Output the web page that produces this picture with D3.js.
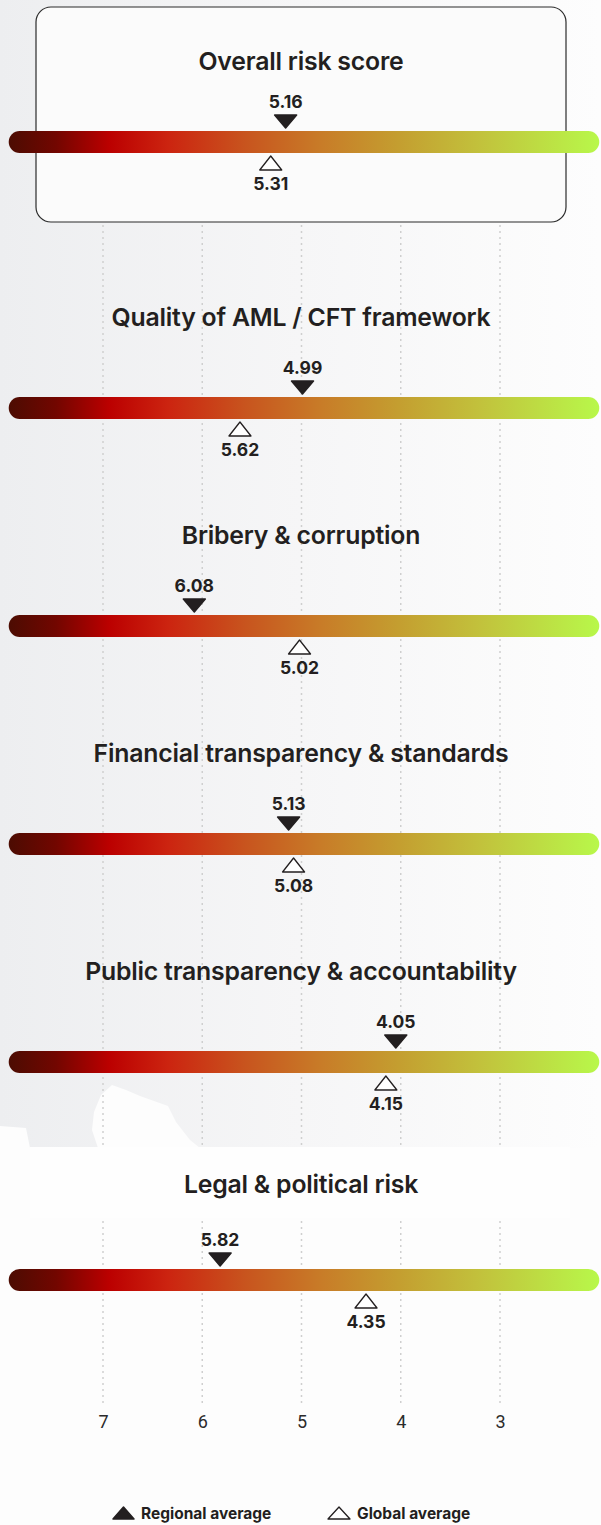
<!DOCTYPE html>
<html>
<head>
<meta charset="utf-8">
<script src="https://cdn.jsdelivr.net/npm/d3@7"></script>
<style>
  html, body { margin: 0; padding: 0; background: #fdfdfd; }
  svg { display: block; font-family: "Inter", "Roboto", sans-serif; }
</style>
</head>
<body>
<svg id="chart"></svg>
<script>
const categories = [
  "Overall risk score",
  "Quality of AML / CFT framework",
  "Bribery & corruption",
  "Financial transparency & standards",
  "Public transparency & accountability",
  "Legal & political risk",
];
const regionalAvg = [5.16, 4.99, 6.08, 5.13, 4.05, 5.82];
const globalAvg = [5.31, 5.62, 5.02, 5.08, 4.15, 4.35];
const tickValues = [7, 6, 5, 4, 3];
const barExtent = [7.95, 2.0]; // the coloured bar runs a bit past the ticks
const legendItems = ["Regional average", "Global average"];

const width = 601;
const height = 1525;
const textColor = "#231f20";

const svg = d3.select("#chart").attr("width", width).attr("height", height);

const x = d3.scaleLinear().domain([7, 3]).range([103, 500]);

// row centres: the first one sits in the framed box, the rest are evenly spaced
const rowY = (i) => (i === 0 ? 142 : 408 + (i - 1) * 218);

const defs = svg.append("defs");

const bg = defs.append("linearGradient").attr("id", "bg-grad");
bg.append("stop").attr("offset", "0%").attr("stop-color", "#edeef0");
bg.append("stop").attr("offset", "50%").attr("stop-color", "#f6f6f7");
bg.append("stop").attr("offset", "100%").attr("stop-color", "#fdfdfd");

const barGrad = defs
  .append("linearGradient")
  .attr("id", "bar-grad")
  .attr("gradientUnits", "userSpaceOnUse")
  .attr("x1", x(barExtent[0]))
  .attr("x2", x(barExtent[1]));

[
  [0, "#4c0c02"],
  [0.08, "#720600"],
  [0.17, "#bb0000"],
  [0.27, "#cc2410"],
  [0.4, "#c8541e"],
  [0.53, "#c87c28"],
  [0.66, "#c49e30"],
  [0.8, "#c2c23c"],
  [1, "#b8f84a"],
].forEach(([o, c]) => {
  barGrad.append("stop").attr("offset", o).attr("stop-color", c);
});

// soft grey backdrop with a ragged lower edge
svg
  .append("path")
  .attr(
    "d",
    "M0,0H601V1148H200L190,1140L176,1122L168,1106L140,1096L126,1090L112,1085L101,1095L94,1112L92,1130L98,1148H30L26,1128L0,1126Z"
  )
  .attr("fill", "url(#bg-grad)");

// dotted grid lines
svg
  .append("g")
  .attr("class", "grid")
  .selectAll("line")
  .data(tickValues)
  .join("line")
  .attr("x1", (d) => x(d))
  .attr("x2", (d) => x(d))
  .attr("y1", 225)
  .attr("y2", 1403)
  .attr("stroke", "#cfcfcf")
  .attr("stroke-width", 1.5)
  .attr("stroke-dasharray", "2,4");

// box around overall score
svg
  .append("rect")
  .attr("x", 36)
  .attr("y", 7)
  .attr("width", 530)
  .attr("height", 215)
  .attr("rx", 15)
  .attr("fill", "#fbfbfb")
  .attr("stroke", "#2b2b2b")
  .attr("stroke-width", 1.2);

// plain backing behind the last title
svg
  .append("rect")
  .attr("x", 30)
  .attr("y", 1147)
  .attr("width", 540)
  .attr("height", 71)
  .attr("fill", "#fefefe");

const rows = svg
  .selectAll("g.row")
  .data(categories.map((c, i) => ({ name: c, reg: regionalAvg[i], glob: globalAvg[i], i })))
  .join("g")
  .attr("class", "row")
  .attr("transform", (d) => `translate(0, ${rowY(d.i)})`);

rows
  .append("text")
  .attr("x", 301)
  .attr("y", (d) => (d.i === 0 ? -72 : d.i === 5 ? -87 : -82))
  .attr("text-anchor", "middle")
  .attr("font-size", 24.8)
  .attr("font-weight", 600)
  .attr("letter-spacing", -0.2)
  .attr("fill", textColor)
  .text((d) => d.name);

const barH = 22;
rows
  .append("rect")
  .attr("x", x(barExtent[0]))
  .attr("y", -barH / 2)
  .attr("width", x(barExtent[1]) - x(barExtent[0]))
  .attr("height", barH)
  .attr("rx", barH / 2)
  .attr("fill", "url(#bar-grad)");

// regional average: filled triangle pointing down onto the bar
rows
  .append("path")
  .attr("d", (d) => {
    const cx = x(d.reg);
    return `M${cx - 11},-27L${cx + 11},-27L${cx},-14Z`;
  })
  .attr("fill", textColor)
  .attr("stroke", textColor)
  .attr("stroke-width", 1.5)
  .attr("stroke-linejoin", "round");

rows
  .append("text")
  .attr("x", (d) => x(d.reg))
  .attr("y", -34)
  .attr("text-anchor", "middle")
  .attr("font-size", 17.5)
  .attr("font-weight", 700)
  .attr("fill", textColor)
  .text((d) => d.reg.toFixed(2));

// global average: hollow triangle pointing up under the bar
rows
  .append("path")
  .attr("d", (d) => {
    const cx = x(d.glob);
    return `M${cx - 11},28L${cx + 11},28L${cx},14Z`;
  })
  .attr("fill", "#ffffff")
  .attr("stroke", textColor)
  .attr("stroke-width", 1.3)
  .attr("stroke-linejoin", "round");

rows
  .append("text")
  .attr("x", (d) => x(d.glob))
  .attr("y", 48)
  .attr("text-anchor", "middle")
  .attr("font-size", 17.5)
  .attr("font-weight", 700)
  .attr("fill", textColor)
  .text((d) => d.glob.toFixed(2));

// axis labels
const axis = svg
  .append("g")
  .attr("transform", "translate(0, 1403)")
  .call(d3.axisBottom(x).tickValues(tickValues).tickSize(0).tickPadding(12).tickFormat(d3.format("d")));
axis.select(".domain").remove();
axis
  .selectAll("text")
  .attr("font-size", 18)
  .attr("font-family", "Roboto, sans-serif")
  .attr("fill", "#2b2b2b");

// legend
const legend = svg.append("g").attr("transform", "translate(0, 1519)");
const legendX = [113, 328];

legend
  .append("path")
  .attr("d", `M${legendX[0]},0L${legendX[0] + 21},0L${legendX[0] + 10.5},-12Z`)
  .attr("fill", textColor)
  .attr("stroke", textColor)
  .attr("stroke-width", 1.5)
  .attr("stroke-linejoin", "round");

legend
  .append("path")
  .attr("d", `M${legendX[1]},0L${legendX[1] + 22},0L${legendX[1] + 11},-12Z`)
  .attr("fill", "#ffffff")
  .attr("stroke", textColor)
  .attr("stroke-width", 1.3)
  .attr("stroke-linejoin", "round");

legend
  .selectAll("text")
  .data(legendItems)
  .join("text")
  .attr("x", (d, i) => legendX[i] + (i === 0 ? 28 : 29))
  .attr("y", 0)
  .attr("font-size", 15.5)
  .attr("font-weight", 700)
  .attr("fill", textColor)
  .text((d) => d);
</script>
</body>
</html>
